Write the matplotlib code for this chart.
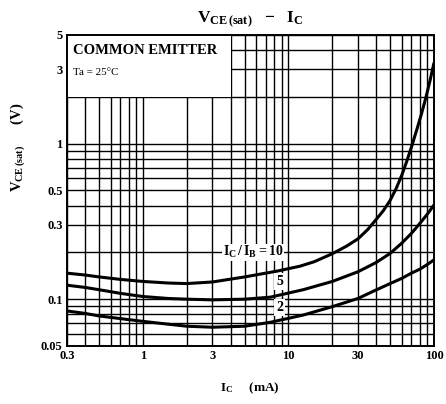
import matplotlib
matplotlib.use("Agg")
import matplotlib.pyplot as plt
from matplotlib.patches import Rectangle
from matplotlib.ticker import FixedLocator, FixedFormatter, LogLocator, NullFormatter

plt.rcParams['font.family'] = ['Liberation Serif', 'DejaVu Serif']
plt.rcParams['mathtext.fontset'] = 'custom'
plt.rcParams['mathtext.rm'] = 'Liberation Serif:bold'
plt.rcParams['mathtext.it'] = 'Liberation Serif:bold'

# IC/IB = 10
ic_10 = [0.3, 0.4, 0.5, 0.7, 1, 1.5, 2, 3, 5, 8.5, 12, 15, 20, 25, 30, 35, 40,
         45, 50, 55, 60, 65, 70, 76, 82, 88, 94, 100]
vce_10 = [0.147, 0.143, 0.139, 0.134, 0.13, 0.127, 0.126, 0.129, 0.139, 0.152,
          0.163, 0.174, 0.196, 0.219, 0.244, 0.28, 0.325, 0.372, 0.432, 0.515,
          0.625, 0.77, 0.95, 1.22, 1.55, 1.98, 2.55, 3.3]
# IC/IB = 5
ic_5 = [0.3, 0.4, 0.5, 0.7, 1, 1.5, 2, 3, 5, 7.5, 12.6, 20, 30, 40, 50, 60,
        70, 80, 90, 100]
vce_5 = [0.123, 0.119, 0.115, 0.109, 0.104, 0.101, 0.100, 0.099, 0.100, 0.103,
         0.115, 0.130, 0.150, 0.172, 0.197, 0.229, 0.265, 0.307, 0.352, 0.403]
# IC/IB = 2
ic_2 = [0.3, 0.4, 0.5, 0.7, 1, 1.5, 2, 3, 5, 7.5, 12.6, 20, 30, 40, 50, 60,
        70, 80, 90, 100]
vce_2 = [0.084, 0.081, 0.078, 0.075, 0.072, 0.069, 0.067, 0.066, 0.067, 0.071,
         0.079, 0.0895, 0.101, 0.1146, 0.126, 0.136, 0.147, 0.156, 0.167, 0.179]

xticks = [0.3, 1, 3, 10, 30, 100]
xticklabels = ['0.3', '1', '3', '10', '30', '100']
yticks = [0.05, 0.1, 0.3, 0.5, 1, 3, 5]
yticklabels = ['0.05', '0.1', '0.3', '0.5', '1', '3', '5']

fig = plt.figure(figsize=(4.46, 4.04), dpi=100)
ax = fig.add_axes([0.150, 0.1436, 0.823, 0.7698])
ax.set_xscale('log')
ax.set_yscale('log')
ax.set_xlim(0.3, 100)
ax.set_ylim(0.05, 5)

ax.xaxis.set_major_locator(FixedLocator(xticks))
ax.xaxis.set_major_formatter(FixedFormatter(xticklabels))
ax.xaxis.set_minor_locator(LogLocator(base=10, subs=range(1, 10), numticks=20))
ax.xaxis.set_minor_formatter(NullFormatter())
ax.yaxis.set_major_locator(FixedLocator(yticks))
ax.yaxis.set_major_formatter(FixedFormatter(yticklabels))
ax.yaxis.set_minor_locator(LogLocator(base=10, subs=range(1, 10), numticks=20))
ax.yaxis.set_minor_formatter(NullFormatter())
ax.tick_params(which='both', length=0, labelsize=9, pad=3)
for lbl in ax.get_xticklabels() + ax.get_yticklabels():
    lbl.set_fontweight('bold')

ax.set_axisbelow(True)
ax.grid(which='both', color='black', linewidth=1.0)
for sp in ax.spines.values():
    sp.set_linewidth(1.4)

# white box behind the condition text
ax.add_patch(Rectangle((0.3, 2), 4 - 0.3, 5 - 2, facecolor='white',
                       edgecolor='none', zorder=1))
ax.text(0.33, 4.0, 'COMMON EMITTER', fontsize=10.5, fontweight='bold',
        va='center', ha='left', zorder=5)
ax.text(0.33, 2.85, 'Ta = 25°C', fontsize=8, va='center', ha='left', zorder=5)

for x, y in [(ic_10, vce_10), (ic_5, vce_5), (ic_2, vce_2)]:
    ax.plot(x, y, color='black', linewidth=2.2, zorder=3,
            solid_capstyle='round', solid_joinstyle='round')

box = dict(facecolor='white', edgecolor='none', pad=1.5)
ax.text(5.7, 0.2, r'$I_C\,/\,I_B = 10$', fontsize=10, ha='center',
        va='center', bbox=dict(facecolor='white', edgecolor='none', pad=0.5),
        zorder=4)
ax.text(8.7, 0.13, '5', fontsize=10, fontweight='bold', ha='center',
        va='center', bbox=box, zorder=4)
ax.text(8.7, 0.088, '2', fontsize=10, fontweight='bold', ha='center',
        va='center', bbox=box, zorder=4)

fig.text(0.56, 0.95, r'$V_{CE\,(sat)}\ \ -\ \ I_C$', fontsize=12.5,
         ha='center', va='center')
fig.text(0.04, 0.635, r'$V_{CE\,(sat)}$      (V)', fontsize=10.5,
         fontweight='bold', rotation=90, ha='center', va='center')
fig.text(0.56, 0.04, r'$I_C$     (mA)', fontsize=9.5, fontweight='bold',
         ha='center', va='center')

fig.savefig('out.png', dpi=100)
